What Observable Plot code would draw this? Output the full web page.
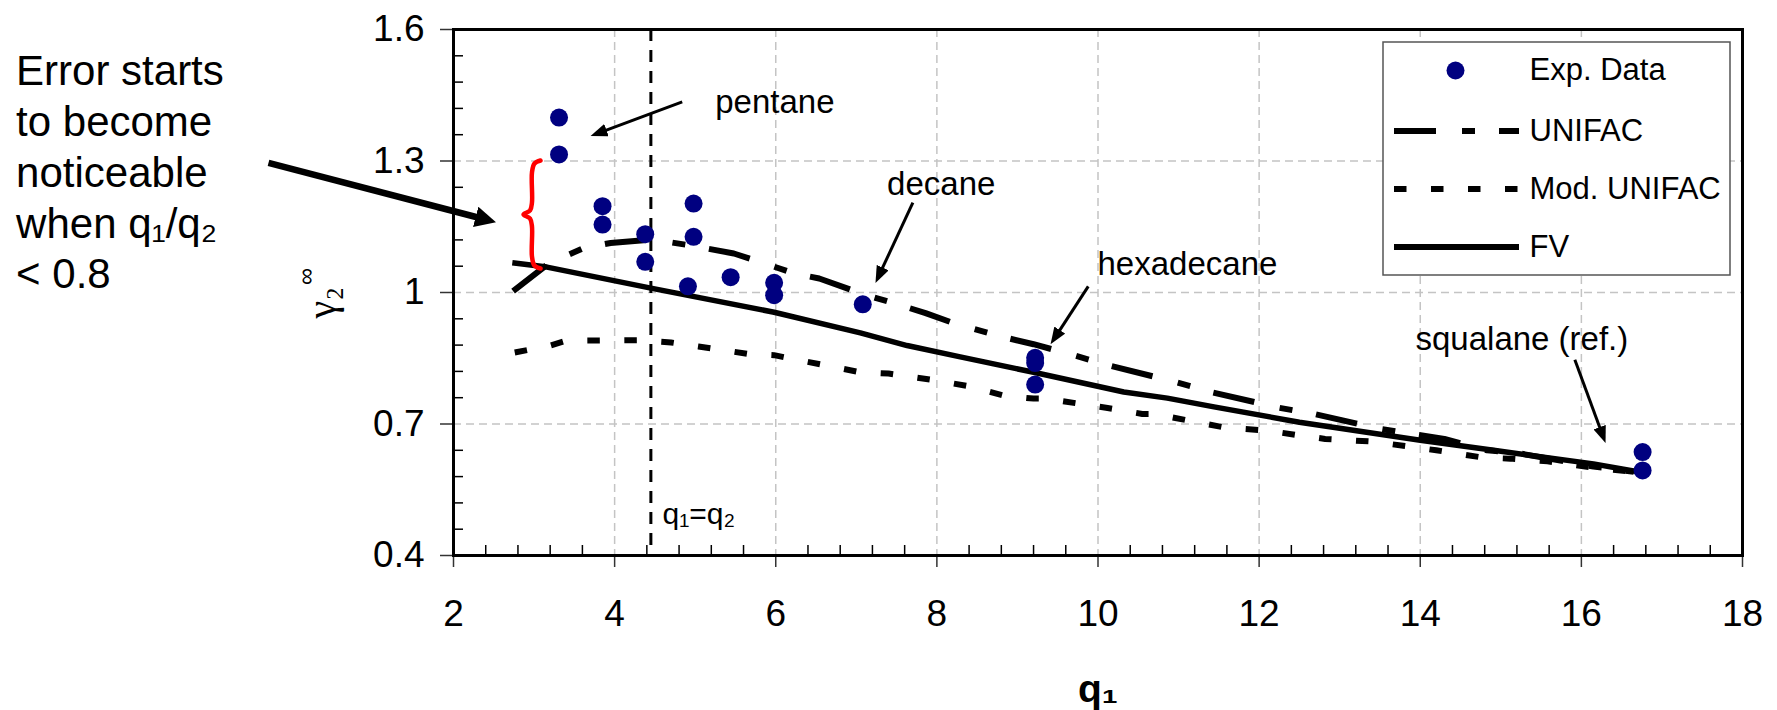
<!DOCTYPE html>
<html>
<head>
<meta charset="utf-8">
<script src="https://cdn.jsdelivr.net/npm/d3@7"></script>
<script src="https://cdn.jsdelivr.net/npm/@observablehq/plot@0.6"></script>
<style>
  html, body { margin: 0; padding: 0; background: #fff; }
  #chart svg { display: block; }
</style>
</head>
<body>
<div id="chart"></div>
<script>
// ---------------- data ----------------
const xTicks = [2, 4, 6, 8, 10, 12, 14, 16, 18];
const xTickLabels = ["2", "4", "6", "8", "10", "12", "14", "16", "18"];
const yTicks = [0.4, 0.7, 1.0, 1.3, 1.6];
const yTickLabels = ["0.4", "0.7", "1", "1.3", "1.6"];
const gridXValues = [4, 6, 8, 10, 12, 14, 16];
const gridYValues = [0.7, 1.0, 1.3];

// Experimental data (q1, gamma2 infinity)
const expQ =     [3.31, 3.31, 3.85, 3.85, 4.38, 4.38, 4.98, 4.98, 4.91, 5.44, 5.98, 5.98, 7.08, 9.22, 9.22, 9.22, 16.76, 16.76];
const expGamma = [1.399, 1.315, 1.197, 1.155, 1.133, 1.070, 1.203, 1.127, 1.014, 1.035, 1.022, 0.994, 0.973, 0.851, 0.839, 0.790, 0.636, 0.594];

// UNIFAC
const unifacQ = [2.74, 3.18, 3.62, 3.95, 4.47, 4.92, 5.48, 5.77, 6.22, 6.54, 7.09, 7.51, 7.86, 8.21, 8.83, 9.20, 9.66, 10.11, 10.96, 11.40, 12.25, 12.68, 13.50, 14.30, 14.83, 15.20, 16.15, 16.65];
const unifacG = [1.003, 1.066, 1.102, 1.113, 1.121, 1.108, 1.089, 1.072, 1.044, 1.032, 0.996, 0.973, 0.953, 0.930, 0.898, 0.882, 0.859, 0.835, 0.796, 0.773, 0.737, 0.723, 0.689, 0.666, 0.640, 0.634, 0.603, 0.591];

// Mod. UNIFAC
const modQ = [2.76, 3.18, 3.40, 4.28, 4.70, 5.04, 5.65, 5.98, 7.05, 7.40, 7.94, 8.40, 8.85, 9.20, 9.35, 10.10, 10.55, 10.70, 11.15, 11.60, 11.95, 12.10, 12.50, 12.82, 13.40, 14.20, 14.79, 15.12, 15.58, 16.16, 16.65];
const modG = [0.863, 0.878, 0.890, 0.891, 0.886, 0.877, 0.860, 0.857, 0.818, 0.815, 0.801, 0.786, 0.764, 0.758, 0.758, 0.737, 0.723, 0.723, 0.707, 0.691, 0.687, 0.685, 0.674, 0.666, 0.660, 0.640, 0.623, 0.621, 0.615, 0.600, 0.591];

// FV
const fvQ = [2.73, 3.16, 4.45, 5.98, 7.05, 7.63, 8.29, 9.20, 10.32, 10.86, 11.44, 12.50, 14.00, 14.91, 16.15, 16.70];
const fvG = [1.068, 1.058, 1.010, 0.955, 0.908, 0.879, 0.853, 0.818, 0.773, 0.759, 0.739, 0.704, 0.663, 0.640, 0.609, 0.591];

// q1 = q2 reference line
const qEqual = [4.45];

// legend
const legendNames = ["Exp. Data", "UNIFAC", "Mod. UNIFAC", "FV"];

// annotation texts and anchors (data coordinates)
const noteTexts = ["pentane", "decane", "hexadecane", "squalane (ref.)"];
const noteQ = [5.249, 7.382, 9.994, 13.941];
const noteG = [1.409, 1.2218, 1.0392, 0.8696];
const smallArrowStartQ = [4.839, 7.702, 9.879, 15.919];
const smallArrowStartG = [1.4347, 1.2051, 1.0141, 0.8467];
const smallArrowTipQ = [3.701, 7.238, 9.411, 16.30];
const smallArrowTipG = [1.3571, 1.0216, 0.8817, 0.6564];
const sideNote = "Error starts\nto become\nnoticeable\nwhen q\u2081/q\u2082\n< 0.8";
const braceQ = [3.080, 3.005, 2.974, 2.974, 2.950, 2.869, 2.950, 2.974, 2.974, 3.005, 3.080];
const braceG = [1.3011, 1.2943, 1.2738, 1.2053, 1.1871, 1.1779, 1.1688, 1.1506, 1.0821, 1.0616, 1.0547];

// ---------------- layout ----------------
const W = 1777, H = 710;
const M = {left: 453, right: 35, top: 29, bottom: 155};
const plotW = W - M.left - M.right, plotH = H - M.top - M.bottom;
const FONT = '"Liberation Sans", Arial, Helvetica, sans-serif';
const xs = Plot.scale({x: {domain: [2, 18], range: [M.left, W - M.right]}});
const ys = Plot.scale({y: {domain: [0.4, 1.6], range: [H - M.bottom, M.top]}});
const atX = (p) => xs.invert(p);
const atY = (p) => ys.invert(p);

const zip = (Q, G) => Q.map((q, i) => ({q, g: G[i]}));
const expData = zip(expQ, expGamma);
const unifacData = zip(unifacQ, unifacG);
const modData = zip(modQ, modG);
const fvData = zip(fvQ, fvG);
const braceData = zip(braceQ, braceG);
const notes = noteTexts.map((t, i) => ({t, q: noteQ[i], g: noteG[i]}));
const smallArrows = smallArrowStartQ.map((q, i) => ({x1: q, y1: smallArrowStartG[i], x2: smallArrowTipQ[i], y2: smallArrowTipG[i]}));
const bigArrow = [{x1: atX(268), y1: atY(162.3), x2: atX(495.5), y2: atY(221.7)}];

const minorX = d3.range(0, 41).map(i => +(2 + i * 0.4).toFixed(2)).filter(v => Math.abs(v / 2 - Math.round(v / 2)) > 1e-6);
const minorY = d3.range(0, 21).map(i => +(0.4 + i * 0.06).toFixed(3)).filter(v => Math.abs((v - 0.4) / 0.3 - Math.round((v - 0.4) / 0.3)) > 1e-6);

// legend geometry in data space
const lg = {x1: atX(1383), x2: atX(1730), y1: atY(42), y2: atY(275)};
const rowY = [atY(70), atY(130.5), atY(188.5), atY(246.5)];
const swX1 = atX(1394), swX2 = atX(1519), dotX = atX(1455), txtX = atX(1529);

const lineStyle = {stroke: "black", strokeLinecap: "butt", strokeLinejoin: "miter"};

const plot = Plot.plot({
  width: W, height: H,
  marginLeft: M.left, marginRight: M.right, marginTop: M.top, marginBottom: M.bottom,
  x: {domain: [2, 18], label: null},
  y: {domain: [0.4, 1.6], label: null},
  style: {fontFamily: FONT, background: "white", color: "black", overflow: "visible"},
  marks: [
    Plot.gridX(gridXValues, {stroke: "#c4c4c4", strokeOpacity: 1, strokeWidth: 1.5, strokeDasharray: "8,5"}),
    Plot.gridY(gridYValues, {stroke: "#c4c4c4", strokeOpacity: 1, strokeWidth: 1.5, strokeDasharray: "8,5"}),
    Plot.ruleX(qEqual, {stroke: "black", strokeWidth: 3, strokeDasharray: "12,9"}),
    Plot.tickX(minorX, {x: d => d, insetTop: plotH - 10, stroke: "black", strokeWidth: 1.5}),
    Plot.tickY(minorY, {y: d => d, insetRight: plotW - 10, stroke: "black", strokeWidth: 1.5}),
    Plot.axisX(xTicks, {tickSize: 12, tickPadding: 32, fontSize: 37, strokeWidth: 1.5, stroke: "#333", label: null,
      tickFormat: d => xTickLabels[xTicks.indexOf(d)]}),
    Plot.axisY(yTicks, {tickSize: 13, tickPadding: 16, fontSize: 37, strokeWidth: 1.5, stroke: "#333", label: null,
      tickFormat: d => yTickLabels[yTicks.indexOf(d)]}),
    Plot.frame({stroke: "black", strokeWidth: 3}),

    // legend box
    Plot.rect([lg], {x1: "x1", x2: "x2", y1: "y1", y2: "y2", fill: "white", stroke: "#555", strokeWidth: 1.5}),
    Plot.dot([legendNames[0]], {x: () => dotX, y: () => rowY[0], r: 9, fill: "#000080"}),
    Plot.ruleY([rowY[1]], {x1: swX1, x2: swX2, ...lineStyle, strokeWidth: 6, strokeDasharray: "42,26,13,24"}),
    Plot.ruleY([rowY[2]], {x1: swX1, x2: swX2, ...lineStyle, strokeWidth: 6, strokeDasharray: "12.5,24.5"}),
    Plot.ruleY([rowY[3]], {x1: swX1, x2: swX2, ...lineStyle, strokeWidth: 6}),
    Plot.text(legendNames, {x: () => txtX, y: (d, i) => rowY[i], text: d => d, textAnchor: "start", fontSize: 31, fill: "black"}),

    // series
    Plot.line(modData, {x: "q", y: "g", ...lineStyle, strokeWidth: 6, strokeDasharray: "12.5,24.5"}),
    Plot.line(unifacData, {x: "q", y: "g", ...lineStyle, strokeWidth: 6, strokeDasharray: "42,26,13,24"}),
    Plot.line(fvData, {x: "q", y: "g", ...lineStyle, strokeWidth: 5.5, strokeLinejoin: "round"}),
    Plot.dot(expData, {x: "q", y: "g", r: 9, fill: "#000080"}),

    // annotations
    Plot.line(braceData, {x: "q", y: "g", stroke: "#ff0000", strokeWidth: 4.5, curve: "catmull-rom", strokeLinecap: "round"}),
    Plot.link(bigArrow, {x1: "x1", y1: "y1", x2: "x2", y2: "y2", stroke: "black", strokeWidth: 6.5}),
    Plot.link(smallArrows, {x1: "x1", y1: "y1", x2: "x2", y2: "y2", stroke: "black", strokeWidth: 3}),
    Plot.text(notes, {x: "q", y: "g", text: "t", textAnchor: "start", lineAnchor: "bottom", fontSize: 33, fill: "black"}),
    Plot.text(["q\u2081=q\u2082"], {x: () => 4.594, y: () => 0.4717, text: d => d, textAnchor: "start", lineAnchor: "bottom", fontSize: 30, fill: "black"}),
    Plot.text([sideNote], {x: () => atX(15.6), y: () => atY(48.5), text: d => d, textAnchor: "start", lineAnchor: "top", lineHeight: 1.21, fontSize: 42, fill: "black"}),
    // axis titles
    Plot.text(["q\u2081"], {x: () => 10, y: () => atY(701), text: d => d, textAnchor: "middle", lineAnchor: "bottom", fontSize: 39, fontWeight: "bold", fill: "black"}),
    Plot.text(["\u03b3\u2082"], {x: () => atX(334), y: () => atY(318), text: d => d, rotate: -90, textAnchor: "start", lineAnchor: "bottom", fontSize: 40, fontFamily: '"Liberation Serif", "DejaVu Serif", serif', fill: "black"}),
    Plot.text(["\u221e"], {x: () => atX(306), y: () => atY(276), text: d => d, rotate: -90, textAnchor: "middle", lineAnchor: "middle", fontSize: 24, fill: "black"})
  ]
});

document.getElementById("chart").append(plot);

// filled arrowheads for the annotation arrows
const svg = d3.select(plot);
const defs = svg.insert("defs", ":first-child");
function marker(id, len, wid) {
  defs.append("marker").attr("id", id).attr("markerUnits", "userSpaceOnUse")
    .attr("viewBox", `0 ${-wid / 2} ${len} ${wid}`).attr("refX", len).attr("refY", 0)
    .attr("markerWidth", len).attr("markerHeight", wid).attr("orient", "auto")
    .append("path").attr("d", `M0,${-wid / 2}L${len},0L0,${wid / 2}Z`).attr("fill", "black");
}
marker("headBig", 21, 21);
marker("headSmall", 17, 13);
const linkGroups = svg.selectAll('g[aria-label="link"]').nodes();
[["headBig", 21], ["headSmall", 17]].forEach(([id, len], k) => {
  d3.select(linkGroups[k]).selectAll("path").each(function () {
    const L = this.getTotalLength();
    d3.select(this).attr("marker-end", `url(#${id})`).attr("stroke-dasharray", `${Math.max(0, L - len * 0.7)} ${L + 10}`);
  });
});
</script>
</body>
</html>
